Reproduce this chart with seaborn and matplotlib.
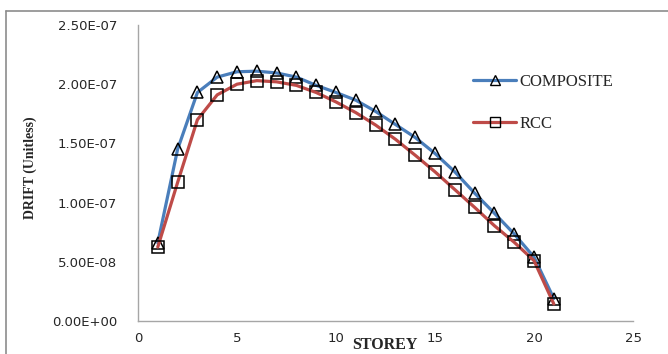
import matplotlib
matplotlib.use("Agg")
import matplotlib.pyplot as plt
import seaborn as sns
import pandas as pd
from matplotlib.lines import Line2D
from matplotlib.ticker import FuncFormatter

storey = list(range(1, 22))
composite = [0.66e-7, 1.45e-7, 1.93e-7, 2.06e-7, 2.105e-7, 2.11e-7, 2.095e-7, 2.06e-7,
             1.99e-7, 1.93e-7, 1.865e-7, 1.77e-7, 1.66e-7, 1.55e-7, 1.415e-7, 1.26e-7,
             1.08e-7, 0.91e-7, 0.735e-7, 0.54e-7, 0.19e-7]
rcc = [0.625e-7, 1.17e-7, 1.70e-7, 1.91e-7, 2.00e-7, 2.03e-7, 2.02e-7, 1.99e-7,
       1.93e-7, 1.85e-7, 1.76e-7, 1.655e-7, 1.535e-7, 1.40e-7, 1.26e-7, 1.11e-7,
       0.96e-7, 0.805e-7, 0.665e-7, 0.51e-7, 0.144e-7]
series_names = ["COMPOSITE", "RCC"]
x_ticks = [0, 5, 10, 15, 20, 25]
y_ticks = [0.0, 0.5e-7, 1.0e-7, 1.5e-7, 2.0e-7, 2.5e-7]

df = pd.DataFrame({
    "STOREY": storey * 2,
    "DRIFT": composite + rcc,
    "Series": [series_names[0]] * len(storey) + [series_names[1]] * len(storey),
})

sns.set_theme(style="white")
plt.rcParams["font.family"] = ["DejaVu Sans"]

fig = plt.figure(figsize=(6.68, 3.54), dpi=100)
ax = fig.add_axes([138 / 668, 1 - 321 / 354, (633 - 138) / 668, (321 - 25) / 354])

palette = {"COMPOSITE": "#4A7EBB", "RCC": "#BE4B48"}
markers = {"COMPOSITE": "^", "RCC": "s"}
sns.lineplot(data=df, x="STOREY", y="DRIFT", hue="Series", style="Series",
             palette=palette, markers=markers, dashes=False, linewidth=2.3,
             markersize=8.5, markerfacecolor="none", markeredgecolor="black",
             markeredgewidth=1.1, ax=ax, legend=False)

ax.set_xlim(0, 25)
ax.set_ylim(0, 2.5e-7)
ax.set_xticks(x_ticks)
ax.set_yticks(y_ticks)
ax.yaxis.set_major_formatter(FuncFormatter(
    lambda v, p: "0.00E+00" if v == 0 else f"{v:.2E}"))
ax.xaxis.set_major_formatter(FuncFormatter(lambda v, p: f"{int(v)}"))

for side in ["top", "right"]:
    ax.spines[side].set_visible(False)
for side in ["left", "bottom"]:
    ax.spines[side].set_color("#A6A6A6")
    ax.spines[side].set_linewidth(1.0)
ax.tick_params(axis="both", direction="in", length=5, width=1.0, color="#A6A6A6",
               labelsize=9.5, labelcolor="#262626")
ax.tick_params(axis="y", pad=15)
ax.tick_params(axis="x", pad=8)

ax.set_xlabel("STOREY", family="Liberation Serif", fontweight="bold", fontsize=11.5,
              color="#262626")
ax.xaxis.set_label_coords((385 - 138) / (633 - 138), -(345 - 321) / (321 - 25))
ax.xaxis.label.set_va("center")
ax.set_ylabel("DRIFT (Unitless)", family="Liberation Serif", fontweight="bold",
              fontsize=10, color="#262626")
ax.yaxis.set_label_coords(-(138 - 30) / (633 - 138), (321 - 168) / (321 - 25))
ax.yaxis.label.set_va("center")

# legend entries drawn as proxy lines
handles = [
    Line2D([], [], color=palette[n], linewidth=2.3, marker=markers[n], markersize=6.5,
           markerfacecolor="none", markeredgecolor="black", markeredgewidth=1.0)
    for n in series_names
]
leg = fig.legend(handles, series_names, loc="upper left",
                 bbox_to_anchor=(458 / 668, 1 - 59 / 354), frameon=False,
                 prop={"family": "Liberation Serif", "size": 12},
                 labelspacing=1.55, handlelength=2.6, handletextpad=0.2)
for t in leg.get_texts():
    t.set_color("#262626")

# outer chart border (top and left edges lie inside the canvas)
fig.add_artist(Line2D([6 / 668, 1.0], [1 - 11 / 354, 1 - 11 / 354],
                      transform=fig.transFigure, color="#8C8C8C", linewidth=1.2))
fig.add_artist(Line2D([6 / 668, 6 / 668], [0.0, 1 - 11 / 354],
                      transform=fig.transFigure, color="#8C8C8C", linewidth=1.2))

fig.savefig("out.png", dpi=100)
